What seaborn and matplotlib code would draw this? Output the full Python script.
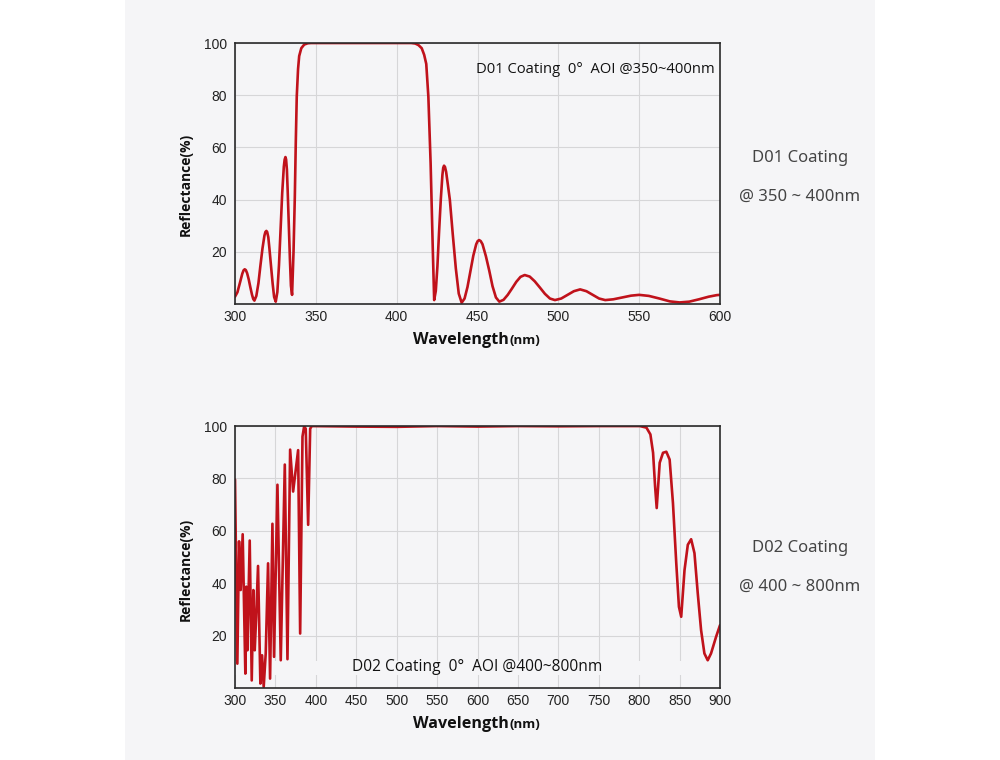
import numpy as np
import pandas as pd
import seaborn as sns
import matplotlib.pyplot as plt
from matplotlib.patches import Rectangle

# D01 coating, 0 deg AOI, reflectance vs wavelength
wl_d01 = [300, 301.5, 303, 304.5, 305.3, 306, 306.7, 307.5, 308.5, 309.5, 310.5, 311.3, 312,
          313.2, 314.5, 315.7, 317, 318.2, 318.8, 319.4, 319.9, 320.6, 321.3, 322.3, 323.3, 324.2, 325.2,
          326.2, 327.2, 328.2, 329.2, 330.2, 330.7, 331.2, 331.6, 332.1, 332.6, 333.3, 334.0, 334.6, 335.3,
          336.2, 337.0, 337.6, 338.2, 339.0, 339.7, 341, 342.8, 345, 347, 380, 409,
          411.5, 413.5, 415.5, 417, 418.3, 419.6, 421, 422.3, 423.2,
          424.2, 425.2, 426.2, 427.3, 428.3, 428.8, 429.3, 429.9, 430.6, 431.5, 432.9, 434.7, 436.6,
          438.4, 440.2,
          442, 443.8, 445.6, 447.4, 449.2, 450.1, 451, 452, 453.1, 455.2, 457.3, 459.3, 461.4, 463.5,
          466.1, 468.7, 471.4, 474, 476.6, 479.2, 482.3, 485.4, 488.6, 491.7, 494.8, 497.9,
          501.8, 505.7, 509.6, 513.5, 517.4, 521.3, 525.2, 529,
          534, 539.5, 545, 550, 556, 562.5, 569, 575,
          581, 587, 593, 598, 600]
r_d01 = [2.8, 4.5, 8.0, 11.6, 12.9, 13.3, 13.0, 11.8, 9.4, 6.4, 3.6, 1.9, 1.3,
         3.1, 8.0, 14.6, 21.3, 26.2, 27.6, 28.0, 27.6, 25.6, 21.2, 14.4, 7.7, 2.7, 0.9,
         4.6, 14.8, 28.6, 42.5, 52.6, 55.3, 56.3, 55.4, 51.5, 43.1, 29.9, 16.7, 7.0, 3.5,
         20, 41, 62, 79.5, 90, 95, 98, 99.4, 99.9, 100, 100, 100,
         99.8, 99.2, 98, 95.5, 92, 79.5, 54, 22, 1.5,
         5, 14.4, 27.3, 40.1, 49.5, 52.2, 53, 52.5, 50.6, 46.5, 39.9, 26.7, 13.6,
         4.0, 0.5,
         2.1, 6.5, 12.5, 18.5, 22.9, 24.1, 24.5, 24.1, 22.9, 18.3, 12.7, 6.8, 2.5, 0.9,
         1.6, 3.5, 6.0, 8.5, 10.4, 11.1, 10.5, 8.7, 6.3, 3.9, 2.1, 1.5,
         2.1, 3.5, 4.9, 5.6, 4.9, 3.5, 2.1, 1.5,
         1.8, 2.5, 3.2, 3.5, 3.1, 2.1, 1.0, 0.6,
         0.9, 1.8, 2.8, 3.4, 3.5]

# D02 coating, 0 deg AOI
wl_d02 = [300, 302.9, 305, 307, 309.5, 312.8, 314, 315.3, 318.2, 320.7, 322.7, 324.4,
          326, 328.5, 331.4, 333.5, 335.5, 338, 340.9, 343.4, 346.3, 348.3, 352.5, 356.6,
          361.6, 364.9, 368.2, 371.9, 378.1, 380.6, 383.5, 385.5, 387.5, 390.5, 393, 395,
          450, 500, 550, 600, 650, 700, 750, 800.8,
          809, 813.9, 817.2, 819.7, 821.7, 825.4, 829.5, 833.6, 837.7, 841.8, 845.9, 849.2,
          852, 856.1, 860.2, 864.3, 868.4, 872.5, 876.6, 880.7, 884.8, 888.9, 895.1, 900]
r_d02 = [79.6, 9.3, 56, 37.4, 58.7, 5.5, 38.7, 14.4, 56.3, 2.9, 37.4, 14.4,
         25.9, 46.6, 1.7, 12.5, 0.4, 13.2, 47.6, 3.6, 62.7, 11.9, 77.6, 10.6,
         85.3, 11.0, 91, 75, 90.8, 20.8, 96, 99.8, 99, 62.3, 99, 100,
         99.8, 99.7, 100, 99.8, 100, 99.9, 100, 100,
         99.4, 96.8, 89.8, 77, 68.7, 86, 89.8, 90.2, 87.2, 70.6, 47.6, 31,
         27.2, 45, 54.7, 56.8, 51.5, 36.1, 22.1, 13.2, 10.6, 13.2, 19.5, 24]

xticks_d01 = [300, 350, 400, 450, 500, 550, 600]
xticks_d02 = [300, 350, 400, 450, 500, 550, 600, 650, 700, 750, 800, 850, 900]
yticks = [20, 40, 60, 80, 100]

BG = '#f5f5f7'
LINE = '#c0121b'

sns.set_theme(style='whitegrid')
plt.rcParams['font.family'] = ['Liberation Sans', 'DejaVu Sans']

fig = plt.figure(figsize=(10, 7.6), dpi=100, facecolor='white')
fig.patches.append(Rectangle((0.125, 0), 0.75, 1, transform=fig.transFigure,
                             facecolor=BG, edgecolor='none', zorder=-1))

ax1 = fig.add_axes([0.235, 0.6, 0.485, 0.3434])
ax2 = fig.add_axes([0.235, 0.0947, 0.485, 0.3447])

df1 = pd.DataFrame({'wl': wl_d01, 'r': r_d01})
df2 = pd.DataFrame({'wl': wl_d02, 'r': r_d02})
sns.lineplot(data=df1, x='wl', y='r', ax=ax1, color=LINE, lw=1.9)
sns.lineplot(data=df2, x='wl', y='r', ax=ax2, color=LINE, lw=1.9)

for ax, xt in [(ax1, xticks_d01), (ax2, xticks_d02)]:
    ax.set_facecolor(BG)
    ax.set_xlim(xt[0], xt[-1])
    ax.set_ylim(0, 100)
    ax.set_xticks(xt)
    ax.set_yticks(yticks)
    ax.set_xlabel('')
    ax.set_ylabel('')
    ax.grid(True, color='#d6d6d8', lw=0.8)
    ax.tick_params(length=0, labelsize=10, labelcolor='#222222')
    ax.tick_params(axis='x', pad=4)
    ax.tick_params(axis='y', pad=6)
    for s in ax.spines.values():
        s.set_color('#2a2a2a')
        s.set_linewidth(1.2)

# gridlines are broken behind the caption band in the lower chart
ax2.axhspan(4.8, 10.5, color=BG, zorder=1, lw=0)

ax1.text(0.988, 89.8, 'D01 Coating  0°  AOI @350~400nm', transform=ax1.get_yaxis_transform(),
         ha='right', va='center', fontsize=10.6, family='Open Sans', color='#111111')
ax2.text(0.241, 8.0, 'D02 Coating  0°  AOI @400~800nm', transform=ax2.get_yaxis_transform(),
         ha='left', va='center', fontsize=11.2, family='Open Sans', color='#111111', zorder=3)

# axis titles
for yc, yb in [(0.757, 0.547), (0.2513, 0.042)]:
    fig.text(0.186, yc, 'Reflectance(%)', rotation=90, ha='center', va='center',
             fontsize=10, fontweight='bold', family='Open Sans', color='#111111')
    fig.text(0.509, yb, 'Wavelength', ha='right', va='baseline',
             fontsize=11.6, fontweight='bold', family='Open Sans', color='#111111')
    fig.text(0.510, yb, '(nm)', ha='left', va='baseline',
             fontsize=9.5, fontweight='bold', family='Open Sans', color='#111111')

# side captions
for y1, y2, t1, t2 in [(158, 197, 'D01 Coating', '@ 350 ~ 400nm'),
                       (548, 587, 'D02 Coating', '@ 400 ~ 800nm')]:
    fig.text(0.80, 1 - y1 / 760, t1, ha='center', va='center', fontsize=12,
             family='Noto Sans', color='#444444')
    fig.text(0.80, 1 - y2 / 760, t2, ha='center', va='center', fontsize=12,
             family='Noto Sans', color='#444444')

fig.savefig('out.png', dpi=100, facecolor='white')
